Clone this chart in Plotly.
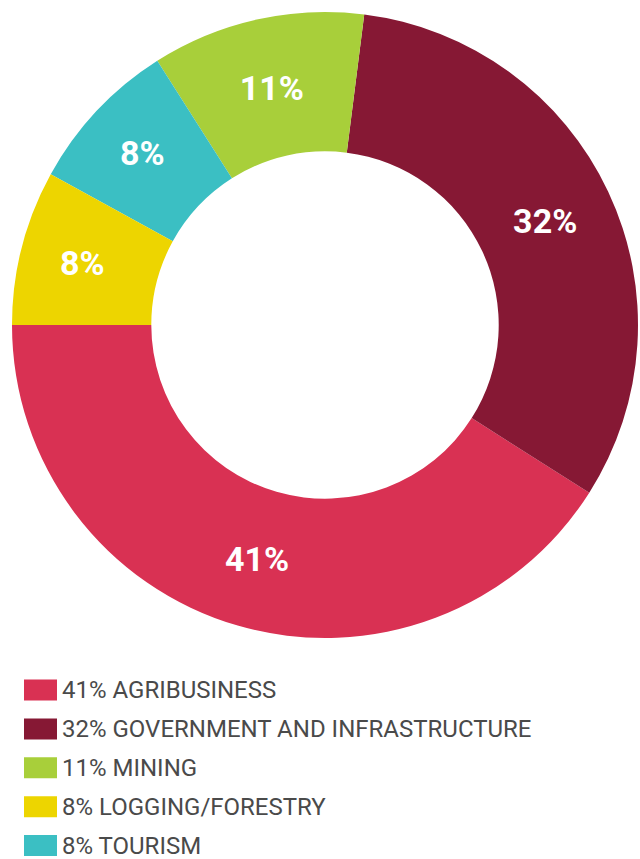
import plotly.graph_objects as go

sectors = ["AGRIBUSINESS", "GOVERNMENT AND INFRASTRUCTURE", "MINING", "TOURISM", "LOGGING/FORESTRY"]
shares = [41, 32, 11, 8, 8]
colors = ["#D93153", "#861834", "#A8CF3A", "#3BBFC3", "#EDD500"]

legend_sectors = ["AGRIBUSINESS", "GOVERNMENT AND INFRASTRUCTURE", "MINING", "LOGGING/FORESTRY", "TOURISM"]
legend_shares = [41, 32, 11, 8, 8]
legend_colors = ["#D93153", "#861834", "#A8CF3A", "#EDD500", "#3BBFC3"]

W, H = 640, 859


def px(x):
    return x / W


def py(y):
    return 1 - y / H


# first slice (counterclockwise) ends at 9 o'clock
start_rot = 270 - 360 * shares[0] / sum(shares)

fig = go.Figure(go.Pie(
    labels=sectors,
    values=shares,
    marker=dict(colors=colors, line=dict(width=0)),
    hole=0.555,
    sort=False,
    direction="counterclockwise",
    rotation=start_rot,
    texttemplate="%{value}%",
    textposition="inside",
    insidetextorientation="horizontal",
    textfont=dict(family="Roboto", size=34, color="white", weight="bold"),
    showlegend=False,
    hoverinfo="none",
    domain=dict(x=[px(12), px(638)], y=[py(638), py(12)]),
))

shapes = []
annotations = []
row_y0 = 690
row_gap = 38.9
for i, (name, val, col) in enumerate(zip(legend_sectors, legend_shares, legend_colors)):
    cy = row_y0 + i * row_gap
    shapes.append(dict(type="rect", xref="paper", yref="paper",
                       x0=px(24), x1=px(57),
                       y0=py(cy + 10.5), y1=py(cy - 10.5),
                       fillcolor=col, line=dict(width=0)))
    annotations.append(dict(xref="paper", yref="paper", x=px(60), y=py(cy),
                            xanchor="left", yanchor="middle", showarrow=False,
                            text=f"{val}% {name}",
                            font=dict(family="Roboto", size=24, color="#4A4A4A")))

fig.update_layout(
    width=W, height=H,
    margin=dict(l=0, r=0, t=0, b=0),
    paper_bgcolor="white",
    plot_bgcolor="white",
    shapes=shapes,
    annotations=annotations,
)

fig.write_html(
    "out.html",
    config={"displayModeBar": False},
    post_script="document.body.style.margin='0';document.body.style.overflow='hidden';",
)
